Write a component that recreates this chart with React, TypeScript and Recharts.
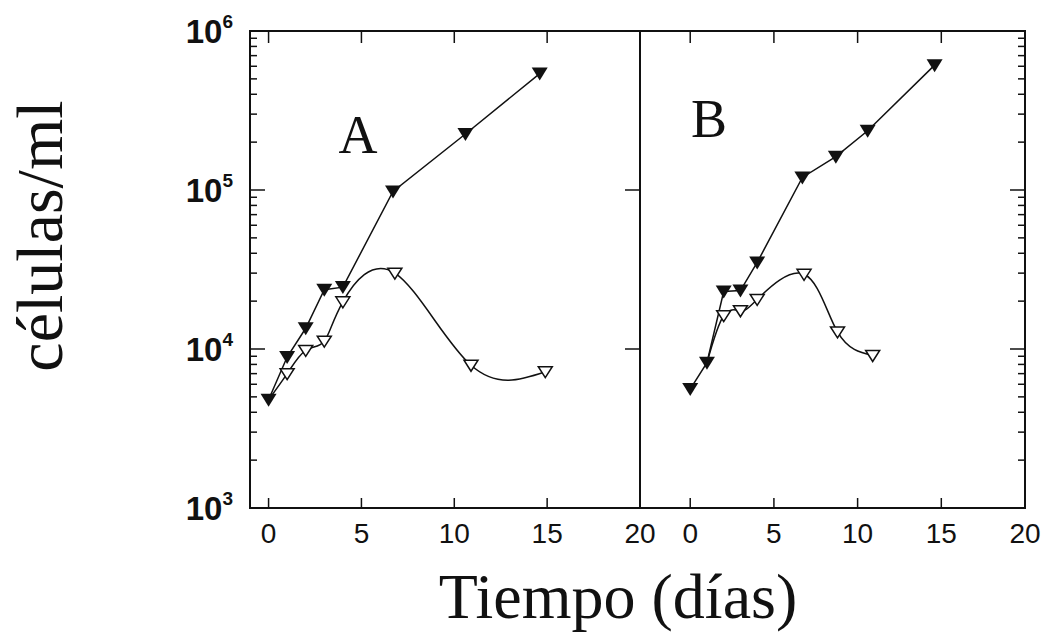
import React from 'react';
import { LineChart, Line, XAxis, YAxis, ReferenceArea } from 'recharts';

// panel A (days, cells/ml)
const daysFilledA = [0, 1, 2, 3, 4, 6.7, 10.6, 14.6];
const cellsFilledA = [4800, 8900, 13500, 23600, 24500, 98000, 225000, 540000];
const daysOpenA = [0, 1, 2, 3, 4, 6.8, 10.9, 14.9];
const cellsOpenA = [4800, 7000, 9800, 11200, 19800, 30000, 7900, 7200];

// panel B
const daysFilledB = [0, 1, 2, 3, 4, 6.7, 8.7, 10.6, 14.6];
const cellsFilledB = [5600, 8200, 23000, 23300, 35000, 120000, 162000, 236000, 610000];
const daysOpenB = [1, 2, 3, 4, 6.8, 8.8, 10.9];
const cellsOpenB = [8200, 16200, 17400, 20500, 29500, 12800, 9100];

const dayTicks = [0, 5, 10, 15, 20];
const topDayTicks = [0, 5, 10, 15];
const decadeTicks = [1e3, 1e4, 1e5, 1e6];
const minorSteps = [2, 3, 4, 5, 6, 7, 8, 9];

const allLogTicks = [
  ...decadeTicks,
  ...decadeTicks.slice(0, 3).flatMap(d => minorSteps.map(m => d * m)),
];

const toPoints = (xs: number[], ys: number[]) => xs.map((day, i) => ({ day, cells: ys[i] }));

const INK = '#111';
const yDomain: [number, number] = [1000, 1000000];
const CHART_H = 634;
const PLOT_TOP = 31;
const PLOT_BOTTOM = 508;

const FilledDot = (p: any) => {
  const { cx, cy, index } = p;
  return <path key={`f-${index}`} d={`M${cx - 8},${cy - 6}L${cx + 8},${cy - 6}L${cx},${cy + 7}Z`} fill={INK} />;
};

const OpenDot = (p: any) => {
  const { cx, cy, index } = p;
  if (index === 0) return <g key={`o-${index}`} />;
  return (
    <path key={`o-${index}`} d={`M${cx - 7},${cy - 5}L${cx + 7},${cy - 5}L${cx},${cy + 6}Z`}
      fill="#fff" stroke={INK} strokeWidth={1.5} />
  );
};

// y ticks: the axis edge is passed in (edgeX), only the y of the tick comes from the scale
const YTick = ({ y, payload, edgeX, side, labels, majorsOnly }: any) => {
  const v = payload.value;
  const major = decadeTicks.includes(v);
  if (majorsOnly && !major) return <g />;
  const len = major ? 15 : 7;
  const dir = side === 'left' ? 1 : -1;
  const exp = Math.round(Math.log10(v));
  return (
    <g>
      <line x1={edgeX} y1={y} x2={edgeX + dir * len} y2={y} stroke={INK} strokeWidth={1.5} />
      {labels && major && (
        <text x={edgeX - 17} y={y + 12} textAnchor="end" fontFamily="'Liberation Sans', Arial, sans-serif"
          fontWeight="bold" fontSize={33} fill={INK}>
          <tspan>10</tspan>
          <tspan dy={-15} fontSize={19}>{exp}</tspan>
        </text>
      )}
    </g>
  );
};

const XTick = ({ x, payload, top }: any) => {
  const edgeY = top ? PLOT_TOP : PLOT_BOTTOM;
  return (
    <g>
      <line x1={x} y1={edgeY} x2={x} y2={top ? edgeY + 12 : edgeY - 10} stroke={INK} strokeWidth={1.5} />
      {!top && (
        <text x={x} y={edgeY + 35} textAnchor="middle"
          fontFamily="'Liberation Sans Narrow', 'Liberation Sans', Arial, sans-serif"
          fontSize={28} fill={INK}>{payload.value}</text>
      )}
    </g>
  );
};

function Panel({ left, width, marginLeft, marginRight, xDomain, filled, open, leftTicks, leftLabels, rightMajorsOnly, rightTicks }: any) {
  const plotLeft = marginLeft;
  const plotRight = width - marginRight;
  const margin = { top: PLOT_TOP - 1, right: marginRight - 1, bottom: CHART_H - PLOT_BOTTOM - 40, left: marginLeft - 1 };
  return (
    <div style={{ position: 'absolute', left, top: 0 }}>
      <LineChart width={width} height={CHART_H} margin={margin}>
        <XAxis xAxisId="b" dataKey="day" type="number" domain={xDomain} ticks={dayTicks} interval={0}
          height={40} tickLine={false} axisLine={false} allowDataOverflow
          tick={(p: any) => <XTick {...p} />} />
        <XAxis xAxisId="t" orientation="top" dataKey="day" type="number" domain={xDomain} ticks={topDayTicks}
          interval={0} height={1} tickLine={false} axisLine={false} allowDataOverflow
          tick={(p: any) => <XTick {...p} top />} />
        <YAxis yAxisId="l" type="number" scale="log" domain={yDomain} allowDataOverflow
          ticks={leftTicks.length ? leftTicks : [1000]} interval={0} width={1} tickLine={false} axisLine={false}
          tick={(p: any) => (leftTicks.length
            ? <YTick {...p} edgeX={plotLeft} side="left" labels={leftLabels} />
            : <g />)} />
        <YAxis yAxisId="r" orientation="right" type="number" scale="log" domain={yDomain} allowDataOverflow
          ticks={rightTicks} interval={0} width={1} tickLine={false} axisLine={false}
          tick={(p: any) => <YTick {...p} edgeX={plotRight} side="right" majorsOnly={rightMajorsOnly} />} />
        <ReferenceArea xAxisId="b" yAxisId="l" x1={xDomain[0]} x2={xDomain[1]} y1={yDomain[0]} y2={yDomain[1]}
          fill="none" fillOpacity={0} stroke={INK} strokeWidth={2} strokeOpacity={1} ifOverflow="visible" />
        <Line xAxisId="b" yAxisId="l" data={open} dataKey="cells" type="natural" stroke={INK}
          strokeWidth={1.5} dot={OpenDot} activeDot={false} isAnimationActive={false} />
        <Line xAxisId="b" yAxisId="l" data={filled} dataKey="cells" type="linear" stroke={INK}
          strokeWidth={1.5} dot={FilledDot} activeDot={false} isAnimationActive={false} />
      </LineChart>
    </div>
  );
}

export default function App() {
  const serif = "'Liberation Serif', 'Times New Roman', serif";
  return (
    <div style={{ position: 'absolute', left: 0, top: 0, width: 1046, height: 634, background: '#fff', overflow: 'hidden' }}>
      <Panel left={0} width={660} marginLeft={250} marginRight={20}
        xDomain={[-1, 20]} filled={toPoints(daysFilledA, cellsFilledA)} open={toPoints(daysOpenA, cellsOpenA)}
        leftTicks={allLogTicks} leftLabels rightMajorsOnly rightTicks={decadeTicks} />
      <Panel left={602} width={444} marginLeft={38} marginRight={21}
        xDomain={[-3, 20]} filled={toPoints(daysFilledB, cellsFilledB)} open={toPoints(daysOpenB, cellsOpenB)}
        leftTicks={[]} leftLabels={false} rightMajorsOnly={false} rightTicks={allLogTicks} />
      <svg width={1046} height={634} style={{ position: 'absolute', left: 0, top: 0, pointerEvents: 'none' }}>
        <text transform="translate(62,236) rotate(-90)" textAnchor="middle" fontFamily={serif} fontSize={66} fill={INK}>
          células/ml
        </text>
        <text x={618} y={618} textAnchor="middle" fontFamily={serif} fontSize={64} fill={INK}>Tiempo (días)</text>
        <text x={358} y={153} textAnchor="middle" fontFamily={serif} fontSize={54} fill={INK}>A</text>
        <text x={709} y={137} textAnchor="middle" fontFamily={serif} fontSize={54} fill={INK}>B</text>
      </svg>
    </div>
  );
}
